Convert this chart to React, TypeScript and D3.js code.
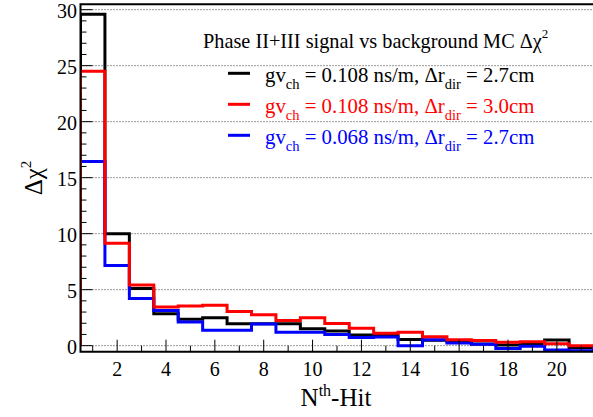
import React from "react";
import * as d3 from "d3";

// Bin centres (N-th hit)
const bins = [1, 2, 3, 4, 5, 6, 7, 8, 9, 10, 11, 12, 13, 14, 15, 16, 17, 18, 19, 20, 21];
// gv_ch = 0.108 ns/m, Δr_dir = 2.7cm
const blackValues = [29.6, 10.0, 5.1, 2.85, 2.35, 2.5, 1.95, 1.95, 1.95, 1.52, 1.3, 0.95, 0.95, 0.55, 0.48, 0.36, 0.15, 0.05, 0.1, 0.5, -0.18];
// gv_ch = 0.108 ns/m, Δr_dir = 3.0cm
const redValues = [24.5, 9.15, 5.42, 3.45, 3.55, 3.6, 3.05, 2.75, 2.24, 2.5, 1.97, 1.55, 1.1, 1.2, 0.8, 0.52, 0.45, 0.3, 0.35, 0.18, 0.0];
// gv_ch = 0.068 ns/m, Δr_dir = 2.7cm
const blueValues = [16.45, 7.15, 4.2, 3.15, 2.12, 1.37, 1.37, 1.94, 1.2, 1.2, 1.0, 0.72, 0.78, 0.0, 0.52, 0.24, 0.12, -0.25, -0.05, -0.38, -0.45];

const xMajorTicks = [2, 4, 6, 8, 10, 12, 14, 16, 18, 20];
const xMinorTicks = [1, 3, 5, 7, 9, 11, 13, 15, 17, 19, 21];
const yMajorTicks = [0, 5, 10, 15, 20, 25, 30];
const yMinorTicks = d3.range(0, 31, 1);

const legendTitle = "Phase II+III signal vs background MC Δχ";
const legendEntries = [
  { color: "#000000", gv: "0.108", dr: "2.7" },
  { color: "#ff0000", gv: "0.108", dr: "3.0" },
  { color: "#0000ff", gv: "0.068", dr: "2.7" },
];

const W = 593;
const H = 417;
const left = 80.5;
const right = 593.5;
const top = 4.3;
const bottom = 351.7;

const FONT = '"Liberation Serif", "Times New Roman", Times, serif';

export default function App() {
  const x = d3.scaleLinear().domain([0.5, 21.5]).range([left, right]);
  const y = d3.scaleLinear().domain([-0.54, 30.48]).range([bottom, top]);

  const histPath = (vals: number[]) => {
    const pts: [number, number][] = [[0.5, 0]];
    bins.forEach((b, i) => {
      pts.push([b - 0.5, vals[i]]);
      pts.push([b + 0.5, vals[i]]);
    });
    pts.push([21.5, 0]);
    return d3
      .line<[number, number]>()
      .x((d) => x(d[0]))
      .y((d) => y(d[1]))(pts) as string;
  };

  const series = [
    { vals: blackValues, color: "#000000" },
    { vals: blueValues, color: "#0000ff" },
    { vals: redValues, color: "#ff0000" },
  ];

  return (
    <svg
      width={W}
      height={H}
      style={{ position: "absolute", left: 0, top: 0, background: "#fff", fontFamily: FONT }}
    >
      <defs>
        <clipPath id="plotclip">
          <rect x={left} y={top} width={right - left} height={bottom - top} />
        </clipPath>
      </defs>
      <rect x={0} y={0} width={W} height={H} fill="#fff" />

      {/* gridlines */}
      {yMajorTicks.map((t) => (
        <line
          key={"g" + t}
          x1={left}
          x2={right}
          y1={y(t)}
          y2={y(t)}
          stroke="#333"
          strokeWidth={1}
          strokeDasharray="1,2"
        />
      ))}

      {/* histograms */}
      <g clipPath="url(#plotclip)">
        {series.map((s, i) => (
          <path
            key={i}
            d={histPath(s.vals)}
            fill="none"
            stroke={s.color}
            strokeWidth={3}
            strokeLinejoin="miter"
          />
        ))}
      </g>

      {/* y ticks */}
      {yMinorTicks.map((t) => (
        <line
          key={"ym" + t}
          x1={left}
          x2={left + (t % 5 === 0 ? 12 : 6)}
          y1={y(t)}
          y2={y(t)}
          stroke="#000"
          strokeWidth={1}
        />
      ))}
      {/* x ticks */}
      {xMinorTicks.map((t) => (
        <line key={"xm" + t} x1={x(t)} x2={x(t)} y1={bottom} y2={bottom - 6} stroke="#000" strokeWidth={1} />
      ))}
      {xMajorTicks.map((t) => (
        <line key={"xM" + t} x1={x(t)} x2={x(t)} y1={bottom} y2={bottom - 12} stroke="#000" strokeWidth={1} />
      ))}

      {/* frame */}
      <path
        d={`M${right},${top}H${left}V${bottom}H${right}`}
        fill="none"
        stroke="#000"
        strokeWidth={2}
      />

      {/* y tick labels */}
      {yMajorTicks.map((t) => (
        <text key={"yl" + t} x={77} y={y(t) + 8.5} textAnchor="end" fontSize={20}>
          {t}
        </text>
      ))}
      {/* x tick labels */}
      {xMajorTicks.map((t) => (
        <text key={"xl" + t} x={x(t)} y={375.5} textAnchor="middle" fontSize={20}>
          {t}
        </text>
      ))}

      {/* axis titles */}
      <text x={336} y={406} textAnchor="middle" fontSize={25}>
        N<tspan fontSize={16} dy={-10}>th</tspan>
        <tspan dy={10}>-Hit</tspan>
      </text>
      <text transform="translate(42,178) rotate(-90)" textAnchor="middle" fontSize={25}>
        Δχ<tspan fontSize={15} dy={-11}>2</tspan>
      </text>

      {/* legend */}
      <text x={203} y={48.3} fontSize={20.3}>
        {legendTitle}
        <tspan fontSize={13} dy={-10}>2</tspan>
      </text>
      {legendEntries.map((e, i) => {
        const base = 81.7 + i * 31;
        return (
          <g key={"le" + i}>
            <line x1={228} x2={250} y1={base - 8.4} y2={base - 8.4} stroke={e.color} strokeWidth={3} />
            <text x={265} y={base} fontSize={20.8} fill={e.color}>
              gv<tspan fontSize={14.5} dy={7}>ch</tspan>
              <tspan dy={-7}>{` = ${e.gv} ns/m, Δr`}</tspan>
              <tspan fontSize={14.5} dy={7}>dir</tspan>
              <tspan dy={-7}>{` = ${e.dr}cm`}</tspan>
            </text>
          </g>
        );
      })}
    </svg>
  );
}
